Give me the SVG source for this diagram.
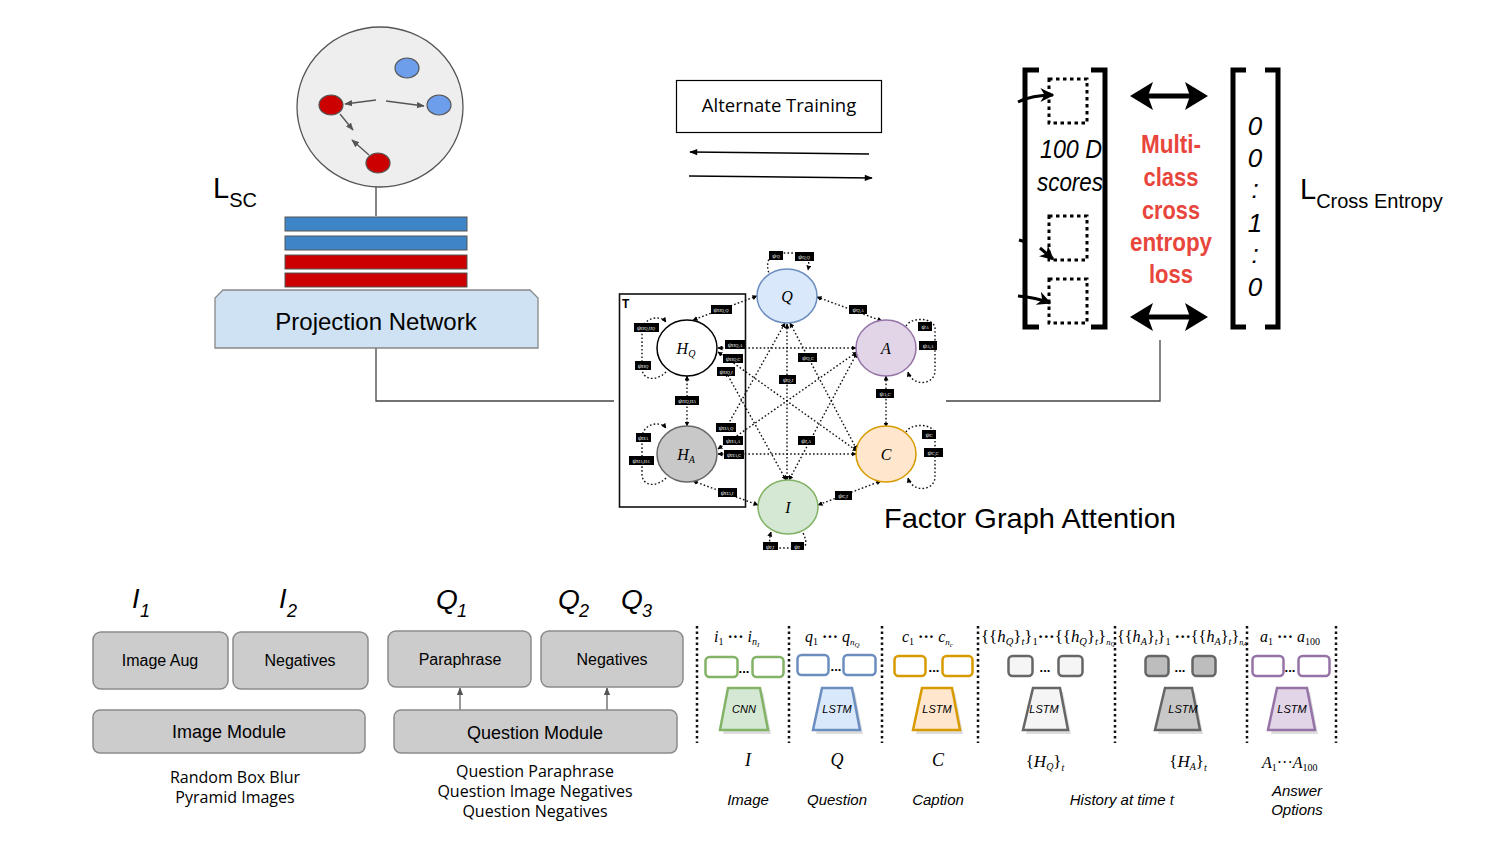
<svg xmlns="http://www.w3.org/2000/svg" width="1500" height="844" viewBox="0 0 1500 844">
<style>
.sans{font-family:"Liberation Sans",Arial,sans-serif}
.open{font-family:"Open Sans","Liberation Sans",sans-serif}
.math{font-family:"Liberation Serif","DejaVu Serif",serif;font-style:italic}
.gbox{fill:#cccccc;stroke:#8a8a8a;stroke-width:1.5}
.conn{fill:none;stroke:#444;stroke-width:1.3}
.fe{fill:none;stroke:#111;stroke-width:1.4;stroke-dasharray:1.6 2.2;marker-start:url(#fa);marker-end:url(#fa)}
.fl{fill:none;stroke:#111;stroke-width:1.4;stroke-dasharray:1.6 2.2;marker-end:url(#fa)}
.lbl rect{fill:#000}
.lbl text{fill:#fff;font-family:"Liberation Serif",serif;font-style:italic;font-size:6.5px;text-anchor:middle}
.sep{stroke:#111;stroke-width:2.5;stroke-dasharray:2.5 3}
.dsq{fill:none;stroke:#000;stroke-width:3;stroke-dasharray:3.5 3.5}
.br{fill:none;stroke:#000;stroke-width:5}
.red{fill:#e8453c;font-family:"Liberation Sans",Arial,sans-serif;font-weight:bold;font-size:25px;text-anchor:middle}
</style>
<defs>
<marker id="fa" viewBox="0 0 10 10" refX="9" refY="5" markerWidth="5" markerHeight="5" orient="auto-start-reverse" markerUnits="userSpaceOnUse"><path d="M0,0 L10,5 L0,10 z" fill="#000"/></marker>
<marker id="ga" viewBox="0 0 10 10" refX="9" refY="5" markerWidth="8" markerHeight="8" orient="auto" markerUnits="userSpaceOnUse"><path d="M0,1 L10,5 L0,9 z" fill="#555"/></marker>
<marker id="ba" viewBox="0 0 10 10" refX="9" refY="5" markerWidth="10" markerHeight="8" orient="auto" markerUnits="userSpaceOnUse"><path d="M0,1 L10,5 L0,9 z" fill="#000"/></marker>
<marker id="bk" viewBox="0 0 10 10" refX="9" refY="5" markerWidth="14" markerHeight="14" orient="auto" markerUnits="userSpaceOnUse"><path d="M0,0 L10,5 L0,10 L3,5 z" fill="#000"/></marker>
</defs>
<rect width="1500" height="844" fill="#fff"/>

<!-- connectors -->
<g id="connectors">
<polyline class="conn" points="376,348 376,401 614,401"/>
<polyline class="conn" points="946,401 1160,401 1160,340"/>
<line class="conn" x1="376" y1="187" x2="376" y2="216"/>
<line x1="869" y1="154" x2="690" y2="152" stroke="#000" stroke-width="1.5" marker-end="url(#ba)"/>
<line x1="689" y1="176" x2="872" y2="178" stroke="#000" stroke-width="1.5" marker-end="url(#ba)"/>
<line x1="460" y1="710" x2="460" y2="688" stroke="#777" stroke-width="1.5" marker-end="url(#ga)"/>
<line x1="607" y1="710" x2="607" y2="688" stroke="#777" stroke-width="1.5" marker-end="url(#ga)"/>
</g>

<!-- embedding sphere -->
<g id="sphere">
<ellipse cx="380" cy="107" rx="83" ry="80" fill="#eeeeee" stroke="#555" stroke-width="1.3"/>
<ellipse cx="407" cy="68" rx="12" ry="10" fill="#6d9eeb" stroke="#555" stroke-width="1.2"/>
<ellipse cx="439" cy="105" rx="12" ry="10" fill="#6d9eeb" stroke="#555" stroke-width="1.2"/>
<ellipse cx="331" cy="105" rx="12" ry="10" fill="#cc0000" stroke="#555" stroke-width="1.2"/>
<ellipse cx="378" cy="163" rx="12" ry="10" fill="#cc0000" stroke="#555" stroke-width="1.2"/>
<line x1="376" y1="100" x2="345" y2="104" stroke="#555" stroke-width="1.3" marker-end="url(#ga)"/>
<line x1="386" y1="101" x2="424" y2="106" stroke="#555" stroke-width="1.3" marker-end="url(#ga)"/>
<line x1="340" y1="114" x2="353" y2="130" stroke="#555" stroke-width="1.3" marker-end="url(#ga)"/>
<line x1="369" y1="155" x2="352" y2="140" stroke="#555" stroke-width="1.3" marker-end="url(#ga)"/>
</g>
<g id="lsc">
<text x="213" y="198" class="sans" font-size="29">L<tspan font-size="20" dy="9">SC</tspan></text>
</g>
<g id="bars">
<rect x="285" y="217" width="182" height="14" fill="#3d85c6" stroke="#555"/>
<rect x="285" y="236" width="182" height="14" fill="#3d85c6" stroke="#555"/>
<rect x="285" y="255" width="182" height="14" fill="#cc0000" stroke="#555"/>
<rect x="285" y="273" width="182" height="14" fill="#cc0000" stroke="#555"/>
</g>
<g id="projection">
<path d="M223,290 L530,290 L538,298 L538,348 L215,348 L215,298 Z" fill="#cfe2f3" stroke="#888" stroke-width="1.3"/>
<text x="376" y="330" class="sans" font-size="24" text-anchor="middle">Projection Network</text>
</g>

<g id="alternate">
<rect x="676.5" y="80.5" width="205" height="52" fill="#fff" stroke="#000" stroke-width="1.2"/>
<text x="779" y="112" class="open" font-size="18.5" text-anchor="middle">Alternate Training</text>
</g>

<!-- factor graph -->
<g id="factor-graph">
<rect x="619.5" y="294" width="126" height="213" fill="none" stroke="#111" stroke-width="1.6"/>
<text x="622" y="308" class="sans" font-size="12" font-weight="bold">T</text>
<g id="fg-edges">
<line class="fe" x1="757" y1="296" x2="693" y2="320"/>
<line class="fe" x1="817" y1="297" x2="882" y2="321"/>
<line class="fe" x1="687" y1="376" x2="687" y2="426"/>
<line class="fe" x1="886" y1="376" x2="886" y2="427"/>
<line class="fe" x1="693" y1="481" x2="758" y2="505"/>
<line class="fe" x1="881" y1="481" x2="818" y2="505"/>
<line class="fe" x1="718" y1="348" x2="856" y2="348"/>
<line class="fe" x1="718" y1="454" x2="856" y2="454"/>
<line class="fe" x1="718" y1="352" x2="857" y2="451"/>
<line class="fe" x1="718" y1="449" x2="857" y2="352"/>
<line class="fe" x1="726" y1="372" x2="786" y2="480"/>
<line class="fe" x1="726" y1="428" x2="785" y2="323"/>
<line class="fe" x1="787" y1="324" x2="787" y2="480"/>
<line class="fe" x1="790" y1="323" x2="857" y2="450"/>
<line class="fe" x1="857" y1="353" x2="789" y2="480"/>
<path class="fl" d="M770,276 C764,262 770,253 780,253 L800,253 C808,253 810,260 808,270"/>
<path class="fl" d="M666,372 C656,382 642,380 642,368 L642,332 C642,318 660,314 666,322"/>
<path class="fl" d="M666,478 C656,488 642,486 642,474 L642,438 C642,424 660,420 666,428"/>
<path class="fl" d="M906,326 C912,316 934,318 935,328 L935,372 C933,386 912,386 908,372"/>
<path class="fl" d="M906,432 C912,422 934,424 935,434 L935,478 C933,492 912,492 908,478"/>
<path class="fl" d="M803,533 C808,543 806,548 800,548 L776,548 C770,548 768,542 771,532"/>
</g>
<g id="fg-Q"><ellipse cx="787" cy="296" rx="30" ry="27" fill="#dae8fc" stroke="#6c8ebf" stroke-width="1.5"/><text x="787" y="302" class="math" font-size="16" text-anchor="middle">Q</text></g>
<g id="fg-HQ"><ellipse cx="687" cy="348" rx="30" ry="28" fill="#fff" stroke="#000" stroke-width="1.5"/><text x="686" y="354" class="math" font-size="16" text-anchor="middle">H<tspan font-size="10" dy="3">Q</tspan></text></g>
<g id="fg-A"><ellipse cx="886" cy="348" rx="30" ry="28" fill="#e1d5e7" stroke="#9673a6" stroke-width="1.5"/><text x="886" y="354" class="math" font-size="16" text-anchor="middle">A</text></g>
<g id="fg-HA"><ellipse cx="687" cy="454" rx="30" ry="28" fill="#c8c8c8" stroke="#666" stroke-width="1.5"/><text x="686" y="460" class="math" font-size="16" text-anchor="middle">H<tspan font-size="10" dy="3">A</tspan></text></g>
<g id="fg-C"><ellipse cx="886" cy="454" rx="30" ry="28" fill="#ffe6cc" stroke="#d79b00" stroke-width="1.5"/><text x="886" y="460" class="math" font-size="16" text-anchor="middle">C</text></g>
<g id="fg-I"><ellipse cx="788" cy="507" rx="30" ry="27" fill="#d5e8d4" stroke="#82b366" stroke-width="1.5"/><text x="788" y="513" class="math" font-size="16" text-anchor="middle">I</text></g>
<g id="fg-labels" class="lbl">
<rect x="769" y="251" width="14" height="9"/><text x="776" y="258">ψ<tspan font-size="4.5">Q</tspan></text>
<rect x="795" y="252" width="19" height="9"/><text x="804" y="259">ψ<tspan font-size="4.5">Q,Q</tspan></text>
<rect x="711" y="305" width="21" height="9"/><text x="721" y="312">ψ<tspan font-size="4.5">HQ,Q</tspan></text>
<rect x="849" y="305" width="18" height="9"/><text x="858" y="312">ψ<tspan font-size="4.5">Q,A</tspan></text>
<rect x="634" y="323" width="25" height="9"/><text x="646" y="330">ψ<tspan font-size="4.5">HQ,HQ</tspan></text>
<rect x="635" y="361" width="16" height="9"/><text x="643" y="368">ψ<tspan font-size="4.5">HQ</tspan></text>
<rect x="725" y="340" width="20" height="9"/><text x="735" y="347">ψ<tspan font-size="4.5">HQ,A</tspan></text>
<rect x="723" y="354" width="20" height="9"/><text x="733" y="361">ψ<tspan font-size="4.5">HQ,C</tspan></text>
<rect x="717" y="367" width="18" height="9"/><text x="726" y="374">ψ<tspan font-size="4.5">HQ,I</tspan></text>
<rect x="798" y="353" width="19" height="9"/><text x="808" y="360">ψ<tspan font-size="4.5">Q,C</tspan></text>
<rect x="779" y="375" width="17" height="9"/><text x="788" y="382">ψ<tspan font-size="4.5">Q,I</tspan></text>
<rect x="918" y="322" width="14" height="9"/><text x="925" y="329">ψ<tspan font-size="4.5">A</tspan></text>
<rect x="919" y="341" width="18" height="9"/><text x="928" y="348">ψ<tspan font-size="4.5">A,A</tspan></text>
<rect x="876" y="389" width="18" height="9"/><text x="885" y="396">ψ<tspan font-size="4.5">A,C</tspan></text>
<rect x="675" y="396" width="24" height="9"/><text x="687" y="403">ψ<tspan font-size="4.5">HQ,HA</tspan></text>
<rect x="716" y="423" width="20" height="9"/><text x="726" y="430">ψ<tspan font-size="4.5">HA,Q</tspan></text>
<rect x="723" y="436" width="20" height="9"/><text x="733" y="443">ψ<tspan font-size="4.5">HA,A</tspan></text>
<rect x="724" y="450" width="20" height="9"/><text x="734" y="457">ψ<tspan font-size="4.5">HA,C</tspan></text>
<rect x="636" y="433" width="15" height="9"/><text x="643" y="440">ψ<tspan font-size="4.5">HA</tspan></text>
<rect x="629" y="456" width="25" height="9"/><text x="641" y="463">ψ<tspan font-size="4.5">HA,HA</tspan></text>
<rect x="798" y="436" width="17" height="9"/><text x="806" y="443">ψ<tspan font-size="4.5">I,A</tspan></text>
<rect x="922" y="430" width="14" height="9"/><text x="929" y="437">ψ<tspan font-size="4.5">C</tspan></text>
<rect x="924" y="448" width="19" height="9"/><text x="933" y="455">ψ<tspan font-size="4.5">C,C</tspan></text>
<rect x="718" y="488" width="19" height="9"/><text x="727" y="495">ψ<tspan font-size="4.5">HA,I</tspan></text>
<rect x="835" y="491" width="17" height="9"/><text x="843" y="498">ψ<tspan font-size="4.5">C,I</tspan></text>
<rect x="763" y="542" width="15" height="8"/><text x="770" y="549">ψ<tspan font-size="4.5">I,I</tspan></text>
<rect x="791" y="542" width="13" height="8"/><text x="797" y="549">ψ<tspan font-size="4.5">I</tspan></text>
</g>
</g>
<g id="fga-title"><text x="884" y="528" class="sans" font-size="28" textLength="292" lengthAdjust="spacingAndGlyphs">Factor Graph Attention</text></g>

<!-- right: score vector and ground truth -->
<g id="score-vector">
<path class="br" d="M1039,70 L1025,70 L1025,327 L1039,327"/>
<path class="br" d="M1091,70 L1105,70 L1105,327 L1091,327"/>
<rect class="dsq" x="1049" y="79" width="38" height="44"/>
<rect class="dsq" x="1049" y="216" width="38" height="44"/>
<rect class="dsq" x="1049" y="279" width="38" height="44"/>
<path d="M1018,102 C1028,97 1040,95 1053,95" fill="none" stroke="#000" stroke-width="3" marker-end="url(#bk)"/>
<line x1="1019" y1="240" x2="1026" y2="242" stroke="#000" stroke-width="3"/>
<line x1="1040" y1="248" x2="1053" y2="259" stroke="#000" stroke-width="3" marker-end="url(#bk)"/>
<path d="M1018,296 C1030,297 1040,299 1050,303" fill="none" stroke="#000" stroke-width="3" marker-end="url(#bk)"/>
<text x="1071" y="158" class="sans" font-style="italic" font-size="25" text-anchor="middle" textLength="62" lengthAdjust="spacingAndGlyphs">100 D</text>
<text x="1070" y="191" class="sans" font-style="italic" font-size="25" text-anchor="middle" textLength="66" lengthAdjust="spacingAndGlyphs">scores</text>
</g>
<g id="loss">
<text class="red" x="1171" y="153" textLength="60" lengthAdjust="spacingAndGlyphs">Multi-</text>
<text class="red" x="1171" y="186" textLength="55" lengthAdjust="spacingAndGlyphs">class</text>
<text class="red" x="1171" y="219" textLength="58" lengthAdjust="spacingAndGlyphs">cross</text>
<text class="red" x="1171" y="251" textLength="82" lengthAdjust="spacingAndGlyphs">entropy</text>
<text class="red" x="1171" y="283" textLength="44" lengthAdjust="spacingAndGlyphs">loss</text>
<line x1="1148" y1="96" x2="1190" y2="96" stroke="#000" stroke-width="5"/>
<path d="M1130,96 L1153,82 L1148,96 L1153,110 Z" fill="#000"/>
<path d="M1208,96 L1185,82 L1190,96 L1185,110 Z" fill="#000"/>
<line x1="1148" y1="317" x2="1190" y2="317" stroke="#000" stroke-width="5"/>
<path d="M1130,317 L1153,303 L1148,317 L1153,331 Z" fill="#000"/>
<path d="M1208,317 L1185,303 L1190,317 L1185,331 Z" fill="#000"/>
</g>
<g id="ground-truth">
<path class="br" d="M1246,70 L1233,70 L1233,327 L1246,327"/>
<path class="br" d="M1265,70 L1278,70 L1278,327 L1265,327"/>
<g class="sans" font-style="italic" font-size="26" text-anchor="middle">
<text x="1255" y="135">0</text>
<text x="1255" y="167">0</text>
<text x="1255" y="198">:</text>
<text x="1255" y="232">1</text>
<text x="1255" y="263">:</text>
<text x="1255" y="296">0</text>
</g>
</g>
<g id="lce">
<text x="1300" y="199" class="sans" font-size="29">L<tspan font-size="20" dy="9">Cross Entropy</tspan></text>
</g>

<!-- bottom left: image module -->
<g id="image-labels" class="sans" font-style="italic">
<text x="132" y="608" font-size="27">I</text><text x="140" y="617" font-size="18">1</text>
<text x="279" y="608" font-size="27">I</text><text x="287" y="617" font-size="18">2</text>
</g>
<g id="image-aug"><rect class="gbox" x="93" y="632" width="135" height="57" rx="8"/><text x="160" y="666" class="sans" font-size="16" text-anchor="middle">Image Aug</text></g>
<g id="image-neg"><rect class="gbox" x="233" y="632" width="135" height="57" rx="8"/><text x="300" y="666" class="sans" font-size="16" text-anchor="middle">Negatives</text></g>
<g id="image-module"><rect class="gbox" x="93" y="710" width="272" height="43" rx="7"/><text x="229" y="738" class="sans" font-size="18" text-anchor="middle">Image Module</text></g>
<g id="image-caption" class="open" font-size="16" text-anchor="middle">
<text x="235" y="783">Random Box Blur</text>
<text x="235" y="803">Pyramid Images</text>
</g>

<!-- bottom middle: question module -->
<g id="question-labels" class="sans" font-style="italic">
<text x="436" y="609" font-size="28">Q</text><text x="457" y="617" font-size="18">1</text>
<text x="558" y="609" font-size="28">Q</text><text x="579" y="617" font-size="18">2</text>
<text x="621" y="609" font-size="28">Q</text><text x="642" y="617" font-size="18">3</text>
</g>
<g id="paraphrase"><rect class="gbox" x="388" y="631" width="143" height="56" rx="8"/><text x="460" y="665" class="sans" font-size="16" text-anchor="middle">Paraphrase</text></g>
<g id="question-neg"><rect class="gbox" x="541" y="631" width="142" height="56" rx="8"/><text x="612" y="665" class="sans" font-size="16" text-anchor="middle">Negatives</text></g>
<g id="question-module"><rect class="gbox" x="394" y="710" width="283" height="43" rx="7"/><text x="535" y="739" class="sans" font-size="18" text-anchor="middle">Question Module</text></g>
<g id="question-caption" class="open" font-size="16" text-anchor="middle">
<text x="535" y="777">Question Paraphrase</text>
<text x="535" y="797">Question Image Negatives</text>
<text x="535" y="817">Question Negatives</text>
</g>

<!-- bottom right: encoders -->
<g id="separators">
<line class="sep" x1="697" y1="626" x2="697" y2="743"/>
<line class="sep" x1="789" y1="626" x2="789" y2="743"/>
<line class="sep" x1="882" y1="626" x2="882" y2="743"/>
<line class="sep" x1="978" y1="626" x2="978" y2="743"/>
<line class="sep" x1="1115" y1="626" x2="1115" y2="743"/>
<line class="sep" x1="1247" y1="626" x2="1247" y2="743"/>
<line class="sep" x1="1336" y1="626" x2="1336" y2="743"/>
</g>

<g id="enc-image">
<text x="714" y="642" class="math" font-size="16">i<tspan font-size="10" dy="3" font-style="normal">1</tspan><tspan dy="-3" font-style="normal" font-weight="bold"> ··· </tspan>i<tspan font-size="10" dy="3">n</tspan><tspan font-size="7" dy="2">I</tspan></text>
<rect x="705.5" y="657" width="32" height="20" rx="4" fill="#fff" stroke="#82b366" stroke-width="2.5"/>
<rect x="752.5" y="657" width="31" height="20" rx="4" fill="#fff" stroke="#82b366" stroke-width="2.5"/>
<text x="744" y="673" class="sans" font-size="13" font-weight="bold" text-anchor="middle">...</text>
<path d="M731,692 L763,692 L771,734 L723,734 Z" fill="#bbb" opacity="0.5"/>
<path d="M728,688 L760,688 L768,730 L720,730 Z" fill="#d5e8d4" stroke="#82b366" stroke-width="2.5"/>
<text x="744" y="713" class="sans" font-style="italic" font-size="11" text-anchor="middle">CNN</text>
<text x="748" y="766" class="math" font-size="18" text-anchor="middle">I</text>
<text x="748" y="805" class="sans" font-style="italic" font-size="15" text-anchor="middle">Image</text>
</g>
<g id="enc-question">
<text x="805" y="642" class="math" font-size="16">q<tspan font-size="10" dy="3" font-style="normal">1</tspan><tspan dy="-3" font-style="normal" font-weight="bold"> ··· </tspan>q<tspan font-size="9" dy="3">n</tspan><tspan font-size="7" dy="2">Q</tspan></text>
<rect x="797.5" y="655" width="31" height="20" rx="4" fill="#fff" stroke="#6c8ebf" stroke-width="2.5"/>
<rect x="843.5" y="655" width="32" height="20" rx="4" fill="#fff" stroke="#6c8ebf" stroke-width="2.5"/>
<text x="836" y="671" class="sans" font-size="13" font-weight="bold" text-anchor="middle">...</text>
<path d="M825,692 L855,692 L863,734 L816,734 Z" fill="#bbb" opacity="0.5"/>
<path d="M822,688 L852,688 L860,730 L813,730 Z" fill="#dae8fc" stroke="#6c8ebf" stroke-width="2.5"/>
<text x="837" y="713" class="sans" font-style="italic" font-size="11" text-anchor="middle">LSTM</text>
<text x="837" y="766" class="math" font-size="18" text-anchor="middle">Q</text>
<text x="837" y="805" class="sans" font-style="italic" font-size="15" text-anchor="middle">Question</text>
</g>
<g id="enc-caption">
<text x="902" y="642" class="math" font-size="16">c<tspan font-size="10" dy="3" font-style="normal">1</tspan><tspan dy="-3" font-style="normal" font-weight="bold"> ··· </tspan>c<tspan font-size="9" dy="3">n</tspan><tspan font-size="7" dy="2">c</tspan></text>
<rect x="894.5" y="656" width="31" height="20" rx="4" fill="#fff" stroke="#d79b00" stroke-width="2.5"/>
<rect x="942.5" y="656" width="30" height="20" rx="4" fill="#fff" stroke="#d79b00" stroke-width="2.5"/>
<text x="934" y="672" class="sans" font-size="13" font-weight="bold" text-anchor="middle">...</text>
<path d="M925,692 L955,692 L963,734 L916,734 Z" fill="#bbb" opacity="0.5"/>
<path d="M922,688 L952,688 L960,730 L913,730 Z" fill="#ffe6cc" stroke="#d79b00" stroke-width="2.5"/>
<text x="937" y="713" class="sans" font-style="italic" font-size="11" text-anchor="middle">LSTM</text>
<text x="938" y="766" class="math" font-size="18" text-anchor="middle">C</text>
<text x="938" y="805" class="sans" font-style="italic" font-size="15" text-anchor="middle">Caption</text>
</g>
<g id="enc-hq">
<text x="981" y="642" class="math" font-size="16" textLength="134" lengthAdjust="spacingAndGlyphs"><tspan font-style="normal">{{</tspan>h<tspan font-size="10" dy="3">Q</tspan><tspan dy="-3" font-style="normal">}</tspan><tspan font-size="10" dy="3">t</tspan><tspan dy="-3" font-style="normal">}</tspan><tspan font-size="10" dy="3" font-style="normal">1</tspan><tspan dy="-3" font-style="normal" font-weight="bold">···</tspan><tspan font-style="normal">{{</tspan>h<tspan font-size="10" dy="3">Q</tspan><tspan dy="-3" font-style="normal">}</tspan><tspan font-size="10" dy="3">t</tspan><tspan dy="-3" font-style="normal">}</tspan><tspan font-size="8" dy="3">n</tspan><tspan font-size="6" dy="1">Q</tspan></text>
<rect x="1008.5" y="656" width="24" height="20" rx="4" fill="#f5f5f5" stroke="#666" stroke-width="2.5"/>
<rect x="1058.5" y="656" width="24" height="20" rx="4" fill="#f5f5f5" stroke="#666" stroke-width="2.5"/>
<text x="1045" y="672" class="sans" font-size="13" font-weight="bold" text-anchor="middle">...</text>
<path d="M1036,692 L1063,692 L1071,734 L1026,734 Z" fill="#bbb" opacity="0.5"/>
<path d="M1033,688 L1060,688 L1068,730 L1023,730 Z" fill="#f5f5f5" stroke="#666" stroke-width="2.5"/>
<text x="1044" y="713" class="sans" font-style="italic" font-size="11" text-anchor="middle">LSTM</text>
<text x="1045" y="767" class="math" font-size="17" text-anchor="middle"><tspan font-style="normal">{</tspan>H<tspan font-size="10" dy="3">Q</tspan><tspan dy="-3" font-style="normal">}</tspan><tspan font-size="10" dy="4">t</tspan></text>
</g>
<g id="enc-ha">
<text x="1117" y="642" class="math" font-size="16" textLength="130" lengthAdjust="spacingAndGlyphs"><tspan font-style="normal">{{</tspan>h<tspan font-size="10" dy="3">A</tspan><tspan dy="-3" font-style="normal">}</tspan><tspan font-size="10" dy="3">t</tspan><tspan dy="-3" font-style="normal">}</tspan><tspan font-size="10" dy="3" font-style="normal">1</tspan><tspan dy="-3" font-style="normal" font-weight="bold"> ···</tspan><tspan font-style="normal">{{</tspan>h<tspan font-size="10" dy="3">A</tspan><tspan dy="-3" font-style="normal">}</tspan><tspan font-size="10" dy="3">t</tspan><tspan dy="-3" font-style="normal">}</tspan><tspan font-size="8" dy="3">n</tspan><tspan font-size="6" dy="1">A</tspan></text>
<rect x="1145.5" y="656" width="23" height="20" rx="4" fill="#bdbdbd" stroke="#666" stroke-width="2.5"/>
<rect x="1192.5" y="656" width="23" height="20" rx="4" fill="#bdbdbd" stroke="#666" stroke-width="2.5"/>
<text x="1180" y="672" class="sans" font-size="13" font-weight="bold" text-anchor="middle">...</text>
<path d="M1168,692 L1195,692 L1203,734 L1158,734 Z" fill="#bbb" opacity="0.5"/>
<path d="M1165,688 L1192,688 L1200,730 L1155,730 Z" fill="#c8c8c8" stroke="#666" stroke-width="2.5"/>
<text x="1183" y="713" class="sans" font-style="italic" font-size="11" text-anchor="middle">LSTM</text>
<text x="1188" y="767" class="math" font-size="17" text-anchor="middle"><tspan font-style="normal">{</tspan>H<tspan font-size="10" dy="3">A</tspan><tspan dy="-3" font-style="normal">}</tspan><tspan font-size="10" dy="4">t</tspan></text>
</g>
<g id="history-caption"><text x="1122" y="805" class="sans" font-style="italic" font-size="15" text-anchor="middle">History at time <tspan class="math" font-size="16">t</tspan></text></g>
<g id="enc-answer">
<text x="1260" y="642" class="math" font-size="16">a<tspan font-size="10" dy="3" font-style="normal">1</tspan><tspan dy="-3" font-style="normal" font-weight="bold"> ··· </tspan>a<tspan font-size="10" dy="3" font-style="normal">100</tspan></text>
<rect x="1252.5" y="656" width="31" height="20" rx="4" fill="#fff" stroke="#9673a6" stroke-width="2.5"/>
<rect x="1298.5" y="656" width="31" height="20" rx="4" fill="#fff" stroke="#9673a6" stroke-width="2.5"/>
<text x="1290" y="672" class="sans" font-size="13" font-weight="bold" text-anchor="middle">...</text>
<path d="M1280,692 L1310,692 L1318,734 L1271,734 Z" fill="#bbb" opacity="0.5"/>
<path d="M1277,688 L1307,688 L1315,730 L1268,730 Z" fill="#e1d5e7" stroke="#9673a6" stroke-width="2.5"/>
<text x="1292" y="713" class="sans" font-style="italic" font-size="11" text-anchor="middle">LSTM</text>
<text x="1262" y="768" class="math" font-size="16">A<tspan font-size="10" dy="3" font-style="normal">1</tspan><tspan dy="-3" font-style="normal">···</tspan>A<tspan font-size="10" dy="3" font-style="normal">100</tspan></text>
<text x="1297" y="796" class="sans" font-style="italic" font-size="15" text-anchor="middle">Answer</text>
<text x="1297" y="815" class="sans" font-style="italic" font-size="15" text-anchor="middle">Options</text>
</g>
</svg>
